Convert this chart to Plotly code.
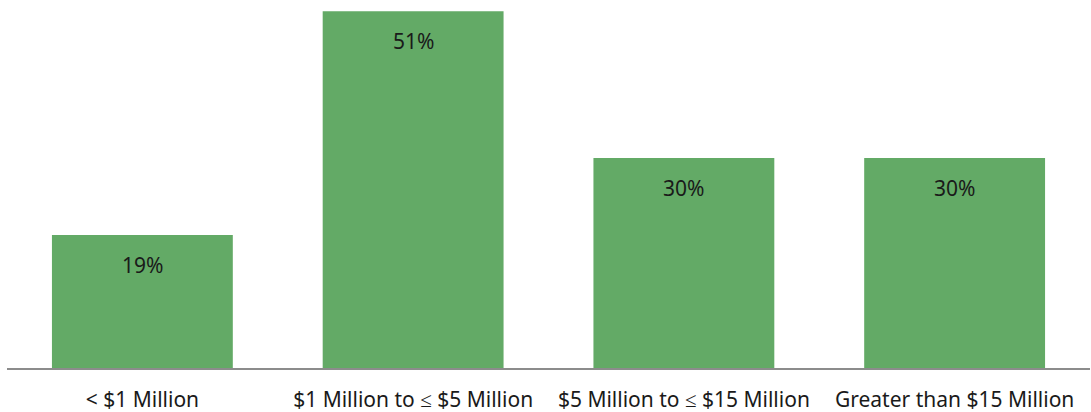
import plotly.graph_objects as go

categories = ["< $1 Million", "$1 Million to ≤ $5 Million", "$5 Million to ≤ $15 Million", "Greater than $15 Million"]
values = [19, 51, 30, 30]
labels = ["19%", "51%", "30%", "30%"]

FONT = "Noto Sans"

fig = go.Figure(go.Bar(x=categories, y=values, marker_color="#63AA66", marker_line_width=0, hoverinfo="skip"))

for c, v, t in zip(categories, values, labels):
    fig.add_annotation(x=c, y=v, text=t, showarrow=False, yanchor="top", yshift=-14,
                       font=dict(family=FONT, size=21, color="#1a1a1a"))

fig.update_layout(
    width=1091, height=412,
    margin=dict(l=7, r=1, t=0, b=44),
    paper_bgcolor="white", plot_bgcolor="white",
    bargap=0.332, showlegend=False,
    font=dict(family=FONT, size=21, color="#1a1a1a"),
)
fig.update_xaxes(showline=True, linecolor="#8c8c8c", linewidth=2, ticks="", showgrid=False,
                 ticklabelstandoff=12, tickfont=dict(size=21))
fig.update_yaxes(range=[0, 52.6], visible=False, showgrid=False, zeroline=False)

fig.write_html("out.html")
